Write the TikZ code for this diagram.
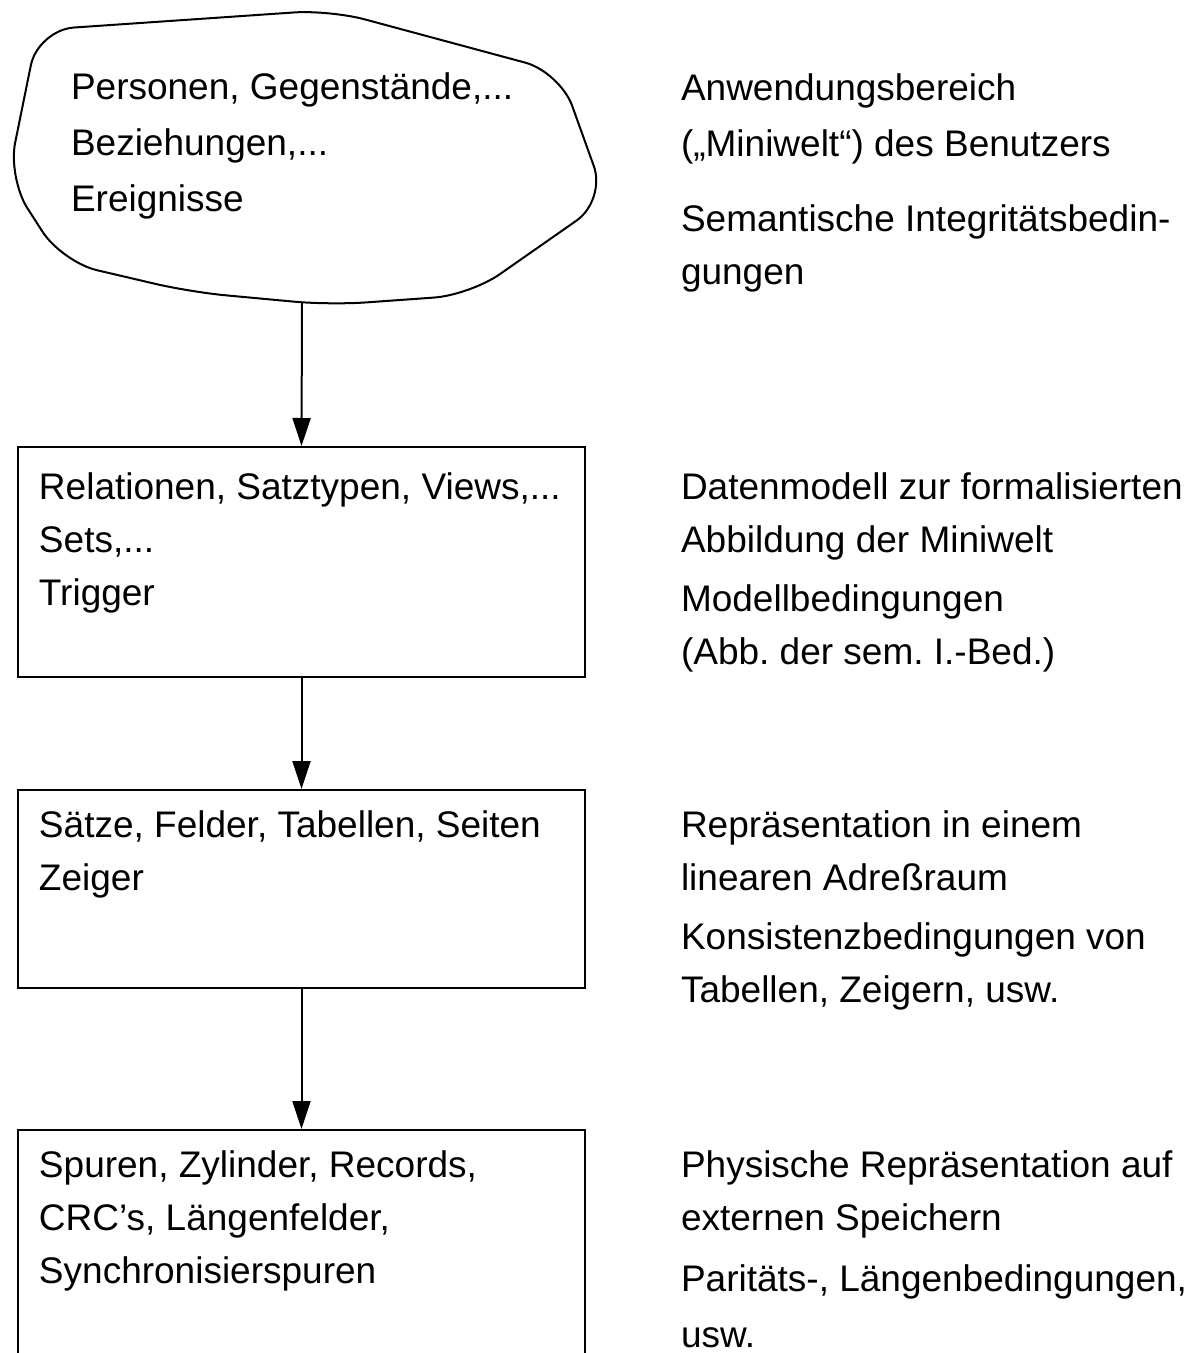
\documentclass[tikz,border=0pt]{standalone}
\usepackage{fontspec}
\setmainfont{Liberation Sans}
\usetikzlibrary{arrows.meta}
\frenchspacing

\begin{document}
\begin{tikzpicture}[x=0.5pt, y=-0.5pt, line width=1pt,
    every node/.style={font=\fontsize{18.5}{26.5}\selectfont},
    txt/.style={anchor=base west, inner sep=0pt, align=left},
    ebene/.style={draw, minimum width=283.5pt, inner sep=0pt},
    pfeil/.style={-{Triangle[length=14pt, width=9pt]}}]
  \useasboundingbox (0,0) rectangle (1199,1353);
  \clip (0,0) rectangle (1199,1353);
  \draw[rounded corners=18pt] (38,30) -- (330,10) -- (560,72) -- (606,200) -- (470,295)
    -- (330,305) -- (190,292) -- (62,262) -- (8,178) -- cycle;
  \coordinate (welt) at (302,303);
  \node[ebene, minimum height=115pt] (modell) at (301.5,562) {};
  \node[ebene, minimum height=99pt] (adress) at (301.5,889) {};
  \node[ebene, minimum height=125pt] (speicher) at (301.5,1255) {};
  \draw[pfeil] (welt) -- (modell.north);
  \draw[pfeil] (modell) -- (adress);
  \draw[pfeil] (adress) -- (speicher);
  % Basislinie der letzten Zeile
  \node[txt] (t1) at (70,212) {Personen, Gegenstände,...\\[1.5pt]Beziehungen,...\\[1.5pt]Ereignisse};
  \node[txt] (t2) at (38,605) {Relationen, Satztypen, Views,...\\Sets,...\\Trigger};
  \node[txt] (t3) at (38,890) {Sätze, Felder, Tabellen, Seiten\\Zeiger};
  \node[txt] (t4) at (38,1283) {Spuren, Zylinder, Records,\\CRC’s, Längenfelder,\\Synchronisierspuren};
  \node[txt] (r1) at (680,157) {Anwendungsbereich\\[1.5pt](„Miniwelt“) des Benutzers};
  \node[txt] (r2) at (680,285) {Semantische Integritätsbedin-\\gungen};
  \node[txt] (r3) at (680,552) {Datenmodell zur formalisierten\\Abbildung der Miniwelt};
  \node[txt] (r4) at (680,664) {Modellbedingungen\\(Abb. der sem. I.-Bed.)};
  \node[txt] (r5) at (680,890) {Repräsentation in einem\\linearen Adreßraum};
  \node[txt] (r6) at (680,1002) {Konsistenzbedingungen von\\Tabellen, Zeigern, usw.};
  \node[txt] (r7) at (680,1230) {Physische Repräsentation auf\\externen Speichern};
  \node[txt] (r8) at (680,1347) {Paritäts-, Längenbedingungen,\\[1.5pt]usw.};
\end{tikzpicture}
\end{document}
